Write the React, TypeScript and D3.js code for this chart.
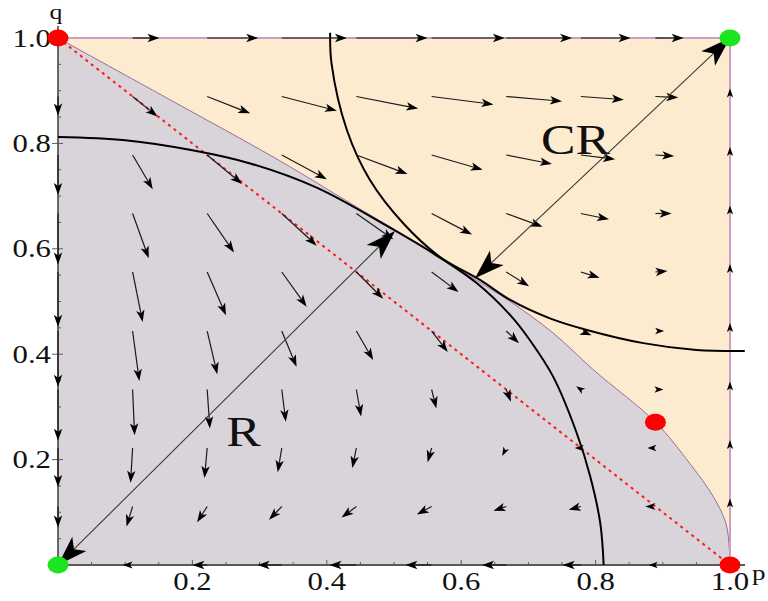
import React, { useEffect, useRef } from 'react'
import * as d3 from 'd3'

const WIDTH = 768
const HEIGHT = 601

// grid of the vector field, same values for p and q
const gridValues = [0, 0.111, 0.222, 0.333, 0.444, 0.556, 0.667, 0.778, 0.889, 1]

// field components, one row per q (q = 1 first, q = 0 last), one column per p
const fieldDp = [
	[0, 0.040, 0.076, 0.097, 0.106, 0.109, 0.098, 0.074, 0.042, 0],
	[0, 0.037, 0.064, 0.082, 0.092, 0.092, 0.083, 0.064, 0.034, 0],
	[0, 0.030, 0.052, 0.067, 0.076, 0.076, 0.068, 0.051, 0.028, 0],
	[0, 0.024, 0.040, 0.052, 0.055, 0.060, 0.054, 0.042, 0.024, 0],
	[0, 0.015, 0.028, 0.037, 0.040, 0.040, 0.034, 0.028, 0.018, 0],
	[0, 0.010, 0.015, 0.022, 0.025, 0.024, 0.019, 0.016, 0.013, 0],
	[0, 0.003, 0.004, 0.006, 0.007, 0.007, 0.007, -0.007, 0.012, 0],
	[0, -0.003, -0.004, -0.006, -0.006, -0.006, -0.006, -0.009, -0.012, 0],
	[0, -0.009, -0.015, -0.019, -0.022, -0.022, -0.019, -0.018, -0.015, 0],
	[0, -0.015, -0.022, -0.036, -0.040, -0.039, -0.036, -0.027, -0.010, 0],
]
const fieldDq = [
	[0, 0, 0, 0, 0, 0, 0, 0, 0, 0],
	[-0.036, -0.038, -0.032, -0.027, -0.023, -0.015, -0.009, -0.006, -0.002, 0.015],
	[-0.076, -0.065, -0.055, -0.046, -0.036, -0.028, -0.017, -0.008, -0.002, 0.015],
	[-0.097, -0.085, -0.074, -0.061, -0.049, -0.040, -0.025, -0.011, 0, 0.015],
	[-0.104, -0.095, -0.082, -0.066, -0.051, -0.038, -0.027, -0.011, 0.002, 0.015],
	[-0.106, -0.095, -0.082, -0.068, -0.055, -0.040, -0.023, -0.008, 0, 0.015],
	[-0.097, -0.087, -0.074, -0.061, -0.051, -0.036, -0.023, 0.006, 0, 0.015],
	[-0.074, -0.066, -0.057, -0.046, -0.038, -0.027, -0.015, 0, 0, 0.015],
	[-0.040, -0.038, -0.030, -0.025, -0.021, -0.015, -0.008, -0.006, 0, 0.015],
	[0, 0, 0, 0, 0, 0, 0, 0, 0, 0],
]

// separatrix between the two basins
const boundaryP = [0, 0.165, 0.33, 0.45, 0.494, 0.56, 0.623, 0.673, 0.737, 0.797, 0.889, 0.94, 0.975, 0.994, 0.999, 1]
const boundaryQ = [1, 0.884, 0.767, 0.675, 0.642, 0.59, 0.54, 0.5, 0.44, 0.37, 0.271, 0.193, 0.13, 0.079, 0.03, 0]

// the two black level curves
const curveAP = [0, 0.1, 0.2, 0.286, 0.385, 0.494, 0.56, 0.623, 0.673, 0.702, 0.737, 0.772, 0.792, 0.807, 0.812]
const curveAQ = [0.812, 0.806, 0.787, 0.762, 0.716, 0.64, 0.59, 0.535, 0.474, 0.427, 0.357, 0.25, 0.168, 0.079, 0]
const curveBP = [0.405, 0.407, 0.430, 0.464, 0.514, 0.568, 0.628, 0.673, 0.732, 0.787, 0.871, 0.95, 1.022]
const curveBQ = [1.01, 0.952, 0.825, 0.731, 0.648, 0.585, 0.541, 0.503, 0.468, 0.446, 0.421, 0.408, 0.406]

// dashed line p + q = 1
const diagP = [0, 1]
const diagQ = [1, 0]

// double headed arrows R and CR
const bigArrowP = [[0, 0.5015], [1, 0.6205]]
const bigArrowQ = [[0, 0.634], [1, 0.544]]
const regionLabels = ['R', 'CR']
const regionLabelP = [0.276, 0.77]
const regionLabelQ = [0.252, 0.807]

// fixed points
const redDotP = [0, 1, 0.889]
const redDotQ = [1, 0, 0.271]
const greenDotP = [0, 1]
const greenDotQ = [0, 1]

const tickValues = [0.2, 0.4, 0.6, 0.8, 1.0]
const tickLabels = ['0.2', '0.4', '0.6', '0.8', '1.0']

const SERIF = '"Liberation Serif", "DejaVu Serif", serif'
const STRETCH = 1.23

function arrowHead(x1, y1, x2, y2, headLen, headW) {
	let dx = x2 - x1
	let dy = y2 - y1
	let len = Math.sqrt(dx * dx + dy * dy)
	let ux = dx / len
	let uy = dy / len
	let h = Math.min(headLen, Math.max(len, 9))
	let w = headW * h / headLen
	let bx = x2 - ux * h
	let by = y2 - uy * h
	let nx = x2 - ux * h * 0.75
	let ny = y2 - uy * h * 0.75
	return {
		path: 'M' + x2 + ',' + y2 + ' L' + (bx - uy * w) + ',' + (by + ux * w) + ' L' + nx + ',' + ny + ' L' + (bx + uy * w) + ',' + (by - ux * w) + ' Z',
		stemEndX: nx,
		stemEndY: ny,
		len: len,
	}
}

export default function App() {
	const svgRef = useRef(null)

	useEffect(() => {
		const svg = d3.select(svgRef.current)
		svg.selectAll('*').remove()

		const x = d3.scaleLinear().domain([0, 1]).range([58, 730])
		const y = d3.scaleLinear().domain([0, 1]).range([565, 38])

		const line = d3.line()
			.x(d => x(d[0]))
			.y(d => y(d[1]))

		const zip = (ps, qs) => ps.map((p, i) => [p, qs[i]])

		// regions
		svg.append('rect')
			.attr('x', x(0)).attr('y', y(1))
			.attr('width', x(1) - x(0)).attr('height', y(0) - y(1))
			.attr('fill', '#fdebd0')

		const boundary = zip(boundaryP, boundaryQ)
		const curved = d3.line()
			.x(d => x(d[0]))
			.y(d => y(d[1]))
			.curve(d3.curveCatmullRom.alpha(0.5))
		svg.append('path')
			.attr('d', curved(boundary) + ' L' + x(0) + ',' + y(0) + ' Z')
			.attr('fill', '#d8d4d9')
		svg.append('path')
			.attr('d', curved(boundary))
			.attr('fill', 'none')
			.attr('stroke', '#9a6aa0')
			.attr('stroke-width', 1)

		// top and right border of the upper region
		svg.append('path')
			.attr('d', line([[0, 1], [1, 1], [1, 0]]))
			.attr('fill', 'none')
			.attr('stroke', '#cf9ebf')
			.attr('stroke-width', 2)

		// axes
		const axes = svg.append('g').attr('stroke', '#5a5a5a')
		axes.append('line').attr('x1', x(0)).attr('x2', 745).attr('y1', y(0)).attr('y2', y(0)).attr('stroke-width', 1.8)
		axes.append('line').attr('x1', x(0)).attr('x2', x(0)).attr('y1', y(0)).attr('y2', 26).attr('stroke-width', 1.8)
		const minor = x.ticks(20).filter(t => t > 0 && tickValues.indexOf(t) < 0)
		axes.selectAll('.xminor').data(minor).enter().append('line')
			.attr('x1', d => x(d)).attr('x2', d => x(d))
			.attr('y1', y(0)).attr('y2', y(0) - 3).attr('stroke-width', 1)
		axes.selectAll('.xmajor').data(tickValues).enter().append('line')
			.attr('x1', d => x(d)).attr('x2', d => x(d))
			.attr('y1', y(0) + 1).attr('y2', y(0) - 5).attr('stroke-width', 1)
		axes.selectAll('.yminor').data(minor).enter().append('line')
			.attr('x1', x(0)).attr('x2', x(0) + 3)
			.attr('y1', d => y(d)).attr('y2', d => y(d)).attr('stroke-width', 1)
		axes.selectAll('.ymajor').data(tickValues).enter().append('line')
			.attr('x1', x(0) - 6).attr('x2', x(0) + 5)
			.attr('y1', d => y(d)).attr('y2', d => y(d)).attr('stroke-width', 1)

		const stretchedText = (g, tx, ty, text, size, anchor) => {
			g.append('text')
				.attr('transform', 'translate(' + tx + ',' + ty + ') scale(' + STRETCH + ',1)')
				.attr('text-anchor', anchor)
				.attr('font-family', SERIF)
				.attr('font-size', size)
				.attr('fill', '#111')
				.text(text)
		}
		const labels = svg.append('g')
		tickValues.forEach((t, i) => {
			stretchedText(labels, x(t), 590, tickLabels[i], 25, 'middle')
			stretchedText(labels, 51, y(t) + 8.5, tickLabels[i], 25, 'end')
		})
		stretchedText(labels, 56, 19, 'q', 21, 'middle')
		stretchedText(labels, 752, 580, 'p', 22, 'start')

		// dashed diagonal
		svg.append('path')
			.attr('d', line(zip(diagP, diagQ)))
			.attr('fill', 'none')
			.attr('stroke', '#ff1a1a')
			.attr('stroke-width', 2)
			.attr('stroke-dasharray', '3,4')

		// level curves
		;[zip(curveAP, curveAQ), zip(curveBP, curveBQ)].forEach(c => {
			svg.append('path')
				.attr('d', curved(c))
				.attr('fill', 'none')
				.attr('stroke', '#000')
				.attr('stroke-width', 2)
		})

		// vector field
		const field = svg.append('g')
		fieldDp.forEach((row, r) => {
			row.forEach((dp, c) => {
				let dq = fieldDq[r][c]
				if (dp === 0 && dq === 0) return
				let p = gridValues[c]
				let q = gridValues[gridValues.length - 1 - r]
				let x1 = x(p), y1 = y(q), x2 = x(p + dp), y2 = y(q + dq)
				let head = arrowHead(x1, y1, x2, y2, 12, 4.2)
				if (head.len > 12) {
					field.append('line')
						.attr('x1', x1).attr('y1', y1)
						.attr('x2', head.stemEndX).attr('y2', head.stemEndY)
						.attr('stroke', '#1a1a1a').attr('stroke-width', 1.2)
				}
				field.append('path').attr('d', head.path).attr('fill', '#000')
			})
		})

		// R and CR arrows
		bigArrowP.forEach((ps, i) => {
			let qs = bigArrowQ[i]
			let x1 = x(ps[0]), y1 = y(qs[0]), x2 = x(ps[1]), y2 = y(qs[1])
			let a = arrowHead(x1, y1, x2, y2, 30, 10)
			let b = arrowHead(x2, y2, x1, y1, 30, 10)
			svg.append('line')
				.attr('x1', b.stemEndX).attr('y1', b.stemEndY)
				.attr('x2', a.stemEndX).attr('y2', a.stemEndY)
				.attr('stroke', '#3a3a3a').attr('stroke-width', 1.1)
			svg.append('path').attr('d', a.path).attr('fill', '#000')
			svg.append('path').attr('d', b.path).attr('fill', '#000')
		})

		// fixed points
		svg.selectAll('.red').data(zip(redDotP, redDotQ)).enter().append('ellipse')
			.attr('cx', d => x(d[0])).attr('cy', d => y(d[1]))
			.attr('rx', 10.5).attr('ry', 8.5).attr('fill', '#ff0000')
		svg.selectAll('.green').data(zip(greenDotP, greenDotQ)).enter().append('ellipse')
			.attr('cx', d => x(d[0])).attr('cy', d => y(d[1]))
			.attr('rx', 10.5).attr('ry', 8.5).attr('fill', '#1de51d')

		regionLabels.forEach((t, i) => {
			stretchedText(svg, x(regionLabelP[i]), y(regionLabelQ[i]) + 14, t, 42, 'middle')
		})
	}, [])

	return (
		<svg
			ref={svgRef}
			width={WIDTH}
			height={HEIGHT}
			style={{ position: 'absolute', left: 0, top: 0, background: '#fff' }}
		/>
	)
}
